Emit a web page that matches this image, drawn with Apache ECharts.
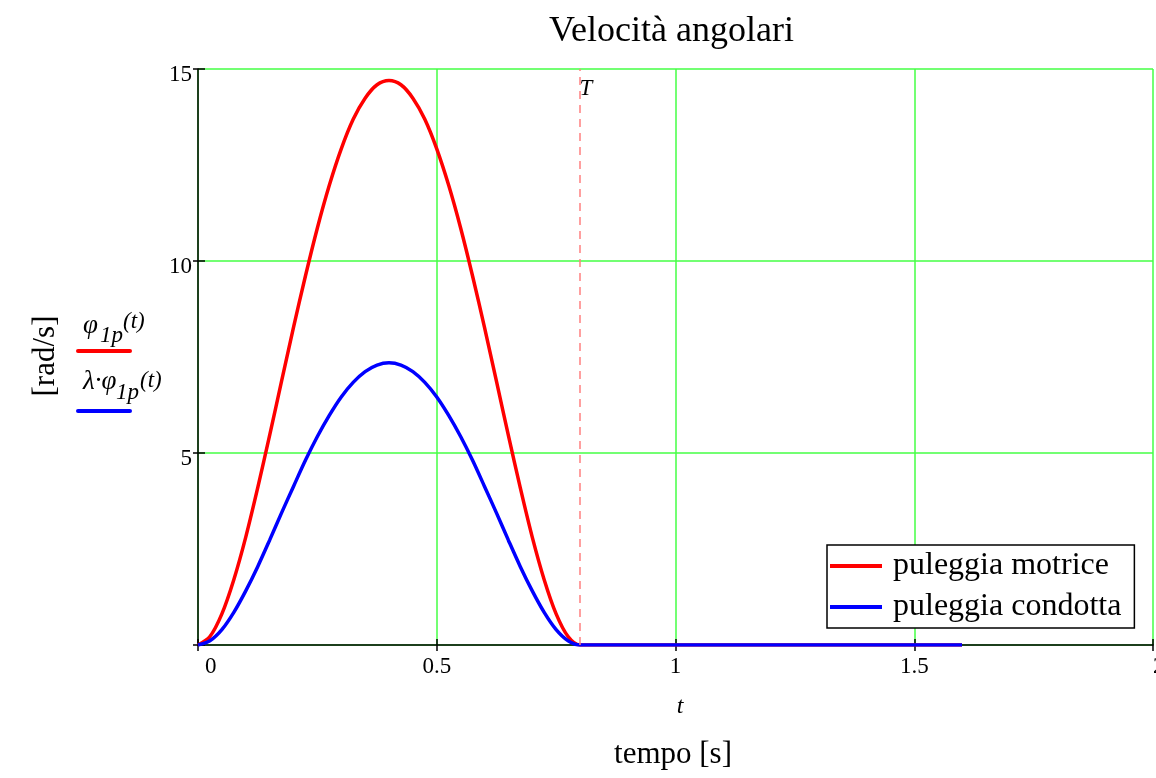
<!DOCTYPE html>
<html>
<head>
<meta charset="utf-8">
<script src="https://cdn.jsdelivr.net/npm/echarts@6/dist/echarts.min.js"></script>
<style>
html,body{margin:0;padding:0;background:#fff;}
#chart{width:1156px;height:778px;}
</style>
</head>
<body>
<div id="chart"></div>
<script>
// ---- data ----
const tValues = [0,0.025,0.05,0.075,0.1,0.125,0.15,0.175,0.2,0.225,0.25,0.275,0.3,0.325,0.35,0.375,0.4,
  0.425,0.45,0.475,0.5,0.525,0.55,0.575,0.6,0.625,0.65,0.675,0.7,0.725,0.75,0.775,0.8,
  0.85,0.9,1.0,1.2,1.4,1.6];
const motriceVals = [0,0.22,0.81,1.70,2.81,4.09,5.46,6.87,8.27,9.61,10.86,11.97,12.92,13.69,14.24,14.59,14.70,
  14.59,14.24,13.69,12.92,11.97,10.86,9.61,8.27,6.87,5.46,4.09,2.81,1.70,0.81,0.22,0,
  0,0,0,0,0,0];
const condottaVals = [0,0.11,0.40,0.85,1.41,2.04,2.73,3.44,4.13,4.81,5.43,5.98,6.46,6.84,7.12,7.29,7.35,
  7.29,7.12,6.84,6.46,5.98,5.43,4.81,4.13,3.44,2.73,2.04,1.41,0.85,0.40,0.11,0,
  0,0,0,0,0,0];
const seriesNames = ['puleggia motrice','puleggia condotta'];
const xTicks = {min:0, max:2, interval:0.5};
const yTicks = {min:0, max:15, interval:5};
const tMarker = 0.8;

const SERIF = '"Liberation Serif", "DejaVu Serif", serif';
const GREEN = '#44ff44';

function pairs(xs, ys){ return xs.map((x,i)=>[x, ys[i]]); }

const chart = echarts.init(document.getElementById('chart'), null, {renderer:'canvas'});
const grid = {left:198, right:3, top:69, bottom:133, containLabel:false, outerBoundsMode:'none'};

chart.setOption({
  backgroundColor:'#fff',
  animation:false,
  title:{
    text:'Velocità angolari', left:544, top:9,
    textStyle:{fontFamily:SERIF, fontSize:36, fontWeight:'normal', color:'#000'}
  },
  grid: grid,
  legend:{
    orient:'vertical', left:827, top:545,
    itemWidth:52, itemHeight:4, itemGap:9, icon:'rect',
    padding:[5,13,5,3],
    borderColor:'#000', borderWidth:1.5, backgroundColor:'#fff',
    textStyle:{fontFamily:SERIF, fontSize:32, color:'#000', padding:[0,0,0,6]},
    data:seriesNames
  },
  xAxis:[{
    type:'value', min:xTicks.min, max:xTicks.max, interval:xTicks.interval,
    axisLine:{onZero:false, lineStyle:{color:'#000', width:1.5}},
    axisTick:{show:true, inside:false, length:6, lineStyle:{color:'#000', width:1.5}},
    splitLine:{show:true, lineStyle:{color:GREEN, width:1.5}},
    axisLabel:{fontFamily:SERIF, fontSize:23, color:'#000', margin:10,
      showMinLabel:true, showMaxLabel:true, hideOverlap:false,
      alignMinLabel:'left', alignMaxLabel:'left',
      formatter:function(v){ return v === xTicks.min ? '{z|' + v + '}' : String(v); },
      rich:{z:{fontFamily:SERIF, fontSize:23, color:'#000', padding:[0,0,0,7]}}}
  },{
    type:'value', min:xTicks.min, max:xTicks.max, interval:xTicks.interval, position:'bottom',
    axisLine:{show:false}, axisLabel:{show:false}, splitLine:{show:false},
    axisTick:{show:true, inside:true, length:6, lineStyle:{color:'#000', width:1.5}}
  }],
  yAxis:[{
    type:'value', min:yTicks.min, max:yTicks.max, interval:yTicks.interval,
    axisLine:{show:true, onZero:false, lineStyle:{color:'#000', width:1.5}},
    axisTick:{show:true, inside:false, length:5, lineStyle:{color:'#000', width:1.5}},
    splitLine:{show:true, lineStyle:{color:GREEN, width:1.5}},
    axisLabel:{fontFamily:SERIF, fontSize:23, color:'#000', margin:6,
      verticalAlign:'top', lineHeight:12,
      formatter:function(v){ return v === 0 ? '' : String(v); }}
  },{
    type:'value', min:yTicks.min, max:yTicks.max, interval:yTicks.interval, position:'left',
    axisLine:{show:false}, axisLabel:{show:false}, splitLine:{show:false},
    axisTick:{show:true, inside:true, length:7, lineStyle:{color:'#000', width:1.5}}
  }],
  series:[{
    name:seriesNames[0], type:'line', xAxisIndex:0, yAxisIndex:0,
    data:pairs(tValues, motriceVals), showSymbol:false, smooth:0.3,
    color:'#ff0000', lineStyle:{color:'#ff0000', width:3.5},
    markLine:{
      silent:true, symbol:'none',
      lineStyle:{color:'#ff8080', type:[8,6], width:1.5},
      label:{show:true, formatter:'T', position:'end', distance:0, offset:[6,31],
        fontFamily:SERIF, fontStyle:'italic', fontSize:23, color:'#000'},
      data:[{xAxis:tMarker}]
    }
  },{
    name:seriesNames[1], type:'line', xAxisIndex:0, yAxisIndex:0,
    data:pairs(tValues, condottaVals), showSymbol:false, smooth:0.3,
    color:'#0000ff', lineStyle:{color:'#0000ff', width:3.5}
  }],
  graphic:[
    {type:'text', x:46, y:356, rotation:Math.PI/2,
      style:{text:'[rad/s]', font:'31px '+SERIF, fill:'#000', textAlign:'center', textVerticalAlign:'middle'}},
    // first y-axis expression
    {type:'text', x:83, y:326, style:{text:'φ', font:'italic 27px '+SERIF, fill:'#000', textAlign:'left', textVerticalAlign:'middle'}},
    {type:'text', x:100, y:336, style:{text:'1p', font:'italic 23px '+SERIF, fill:'#000', textAlign:'left', textVerticalAlign:'middle'}},
    {type:'text', x:123, y:322, style:{text:'(t)', font:'italic 23px '+SERIF, fill:'#000', textAlign:'left', textVerticalAlign:'middle'}},
    {type:'line', shape:{x1:78, y1:351, x2:130, y2:351}, style:{stroke:'#ff0000', lineWidth:4, lineCap:'round'}},
    // second y-axis expression
    {type:'text', x:83, y:382, style:{text:'λ·φ', font:'italic 27px '+SERIF, fill:'#000', textAlign:'left', textVerticalAlign:'middle'}},
    {type:'text', x:116, y:393, style:{text:'1p', font:'italic 23px '+SERIF, fill:'#000', textAlign:'left', textVerticalAlign:'middle'}},
    {type:'text', x:140, y:381, style:{text:'(t)', font:'italic 23px '+SERIF, fill:'#000', textAlign:'left', textVerticalAlign:'middle'}},
    {type:'line', shape:{x1:78, y1:411, x2:130, y2:411}, style:{stroke:'#0000ff', lineWidth:4, lineCap:'round'}},
    // x-axis names
    {type:'text', x:680, y:707, style:{text:'t', font:'italic 24px '+SERIF, fill:'#000', textAlign:'center', textVerticalAlign:'middle'}},
    {type:'text', x:673, y:755, style:{text:'tempo [s]', font:'31px '+SERIF, fill:'#000', textAlign:'center', textVerticalAlign:'middle'}}
  ]
});
</script>
</body>
</html>
